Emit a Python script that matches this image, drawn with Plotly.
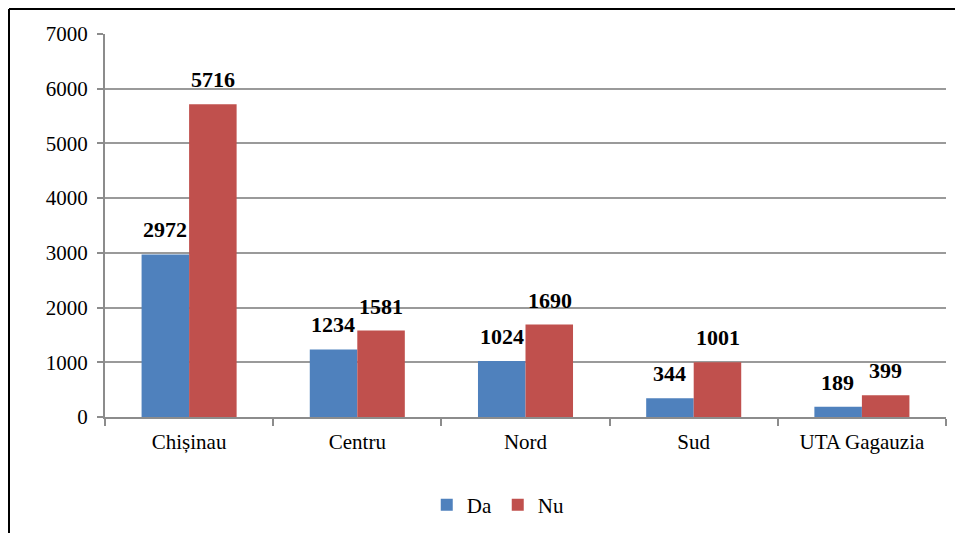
import plotly.graph_objects as go

categories = ["Chișinau", "Centru", "Nord", "Sud", "UTA Gagauzia"]
da_values = [2972, 1234, 1024, 344, 189]
nu_values = [5716, 1581, 1690, 1001, 399]
y_ticks = [0, 1000, 2000, 3000, 4000, 5000, 6000, 7000]

BLUE = "#4F81BD"
RED = "#C0504D"
FONT = "Liberation Serif"

W, H = 955, 525
ML, MR, MT, MB = 97, 17, 26, 116
PW = W - ML - MR
PH = H - MT - MB

fig = go.Figure()
fig.add_trace(go.Bar(name="Da", x=categories, y=da_values, marker=dict(color=BLUE, line=dict(width=0))))
fig.add_trace(go.Bar(name="Nu", x=categories, y=nu_values, marker=dict(color=RED, line=dict(width=0))))

annotations = []
for cat, v in zip(categories, da_values):
    annotations.append(dict(x=cat, y=v, xref="x", yref="y", text="<b>%d</b>" % v, showarrow=False,
                            xshift=-24, yshift=10, yanchor="bottom",
                            font=dict(family=FONT, size=22, color="black")))
for cat, v in zip(categories, nu_values):
    annotations.append(dict(x=cat, y=v, xref="x", yref="y", text="<b>%d</b>" % v, showarrow=False,
                            xshift=24, yshift=10, yanchor="bottom",
                            font=dict(family=FONT, size=22, color="black")))

bx = -(ML - 1) / PW
by = 1 + (MT - 1) / PH

fig.update_layout(
    width=W, height=H,
    margin=dict(l=ML, r=MR, t=MT, b=MB, autoexpand=False),
    paper_bgcolor="white", plot_bgcolor="white",
    barmode="group", bargap=0.435, bargroupgap=0,
    font=dict(family=FONT, size=21, color="black"),
    showlegend=True,
    legend=dict(orientation="h", x=0.467, xanchor="center", y=-0.23, yanchor="middle",
                font=dict(family=FONT, size=21), itemwidth=30, traceorder="normal",
                entrywidth=26, entrywidthmode="pixels"),
    annotations=annotations,
    shapes=[
        dict(type="line", xref="paper", yref="paper", x0=bx, x1=1.1, y0=by, y1=by,
             line=dict(color="black", width=2)),
        dict(type="line", xref="paper", yref="paper", x0=bx, x1=bx, y0=by, y1=-0.4,
             line=dict(color="black", width=2)),
    ],
)
fig.update_xaxes(type="category", showline=True, linecolor="#8C8C8C", linewidth=2,
                 ticks="outside", tickson="boundaries", ticklen=7, tickcolor="#8C8C8C", tickwidth=2,
                 showgrid=False, tickfont=dict(family=FONT, size=21), ticklabelstandoff=5)
fig.update_yaxes(range=[0, 7000], tickvals=y_ticks, showline=True, linecolor="#8C8C8C", linewidth=2,
                 ticks="outside", ticklen=6, tickcolor="#8C8C8C", tickwidth=2,
                 showgrid=True, gridcolor="#9A9A9A", gridwidth=2, zeroline=False,
                 tickfont=dict(family=FONT, size=21), ticklabelstandoff=5)

fig.write_html("out.html")
